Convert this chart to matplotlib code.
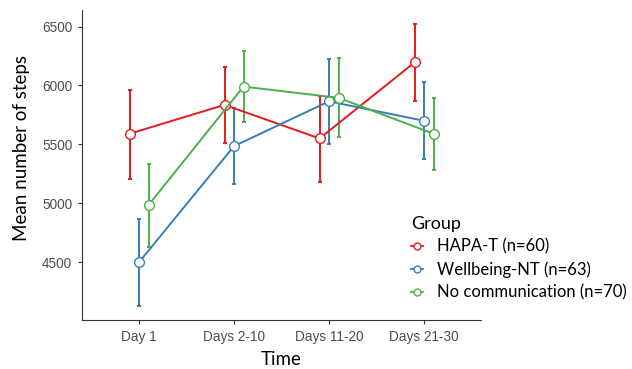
import numpy as np
import matplotlib.pyplot as plt
from matplotlib.lines import Line2D

# Data
time_labels = ["Day 1", "Days 2-10", "Days 11-20", "Days 21-30"]
groups = ["HAPA-T (n=60)", "Wellbeing-NT (n=63)", "No communication (n=70)"]
colors = ["#E41A1C", "#377EB8", "#4DAF4A"]

hapa_mean = [5590, 5835, 5550, 6195]
hapa_low = [5210, 5510, 5185, 5865]
hapa_high = [5965, 6160, 5910, 6525]

well_mean = [4500, 5485, 5865, 5700]
well_low = [4127, 5162, 5505, 5372]
well_high = [4870, 5805, 6228, 6027]

nocomm_mean = [4985, 5990, 5895, 5590]
nocomm_low = [4632, 5690, 5560, 5285]
nocomm_high = [5335, 6290, 6230, 5895]

means = [hapa_mean, well_mean, nocomm_mean]
lows = [hapa_low, well_low, nocomm_low]
highs = [hapa_high, well_high, nocomm_high]
dodge = [-0.1, 0.0, 0.1]

title_font = ["Lato", "DejaVu Sans"]
tick_font = ["Liberation Sans", "DejaVu Sans"]

fig = plt.figure(figsize=(6.32, 3.69), dpi=100)
ax = fig.add_axes([82 / 632, 49 / 369, 399 / 632, 310 / 369])

x = np.arange(1, len(time_labels) + 1)
for i in range(len(groups)):
    xs = x + dodge[i]
    m = np.array(means[i])
    lo = m - np.array(lows[i])
    hi = np.array(highs[i]) - m
    ax.errorbar(xs, m, yerr=[lo, hi], fmt="none", ecolor=colors[i],
                elinewidth=1.4, capsize=1.2, capthick=1.4, zorder=2)
    ax.plot(xs, m, color=colors[i], lw=1.4, marker="o", markersize=7,
            markerfacecolor="white", markeredgecolor=colors[i],
            markeredgewidth=1.0, zorder=3)

ax.set_xlim(0.4, 4.6)
ax.set_ylim(4010, 6640)
ax.set_xticks(x)
ax.set_xticklabels(time_labels, family=tick_font, fontsize=9.8, color="#4D4D4D")
ax.set_yticks([4500, 5000, 5500, 6000, 6500])
ax.set_yticklabels(["4500", "5000", "5500", "6000", "6500"],
                   family=tick_font, fontsize=9.8, color="#4D4D4D")
ax.tick_params(length=3, width=0.8, color="#333333", pad=4)

for s in ["top", "right"]:
    ax.spines[s].set_visible(False)
for s in ["left", "bottom"]:
    ax.spines[s].set_color("#333333")
    ax.spines[s].set_linewidth(0.8)

ax.set_ylabel("Mean number of steps", family=title_font, fontsize=13.5)
ax.yaxis.set_label_coords(-52 / 399, 0.556)
ax.set_xlabel("Time", family=title_font, fontsize=13.5, labelpad=5)

handles = [Line2D([0], [0], color=c, lw=1.3, marker="o", markersize=5,
                  markerfacecolor="white", markeredgecolor=c)
           for c in colors]
leg = fig.legend(handles, groups, title="Group", loc="upper left",
                 bbox_to_anchor=(399 / 632, 1 - 204 / 369), frameon=False,
                 prop={"family": title_font, "size": 12},
                 title_fontproperties={"family": title_font, "size": 13},
                 handlelength=0.75, handletextpad=0.85, labelspacing=0.4,
                 alignment="left", borderpad=0.2)

fig.savefig("out.png", dpi=100)
